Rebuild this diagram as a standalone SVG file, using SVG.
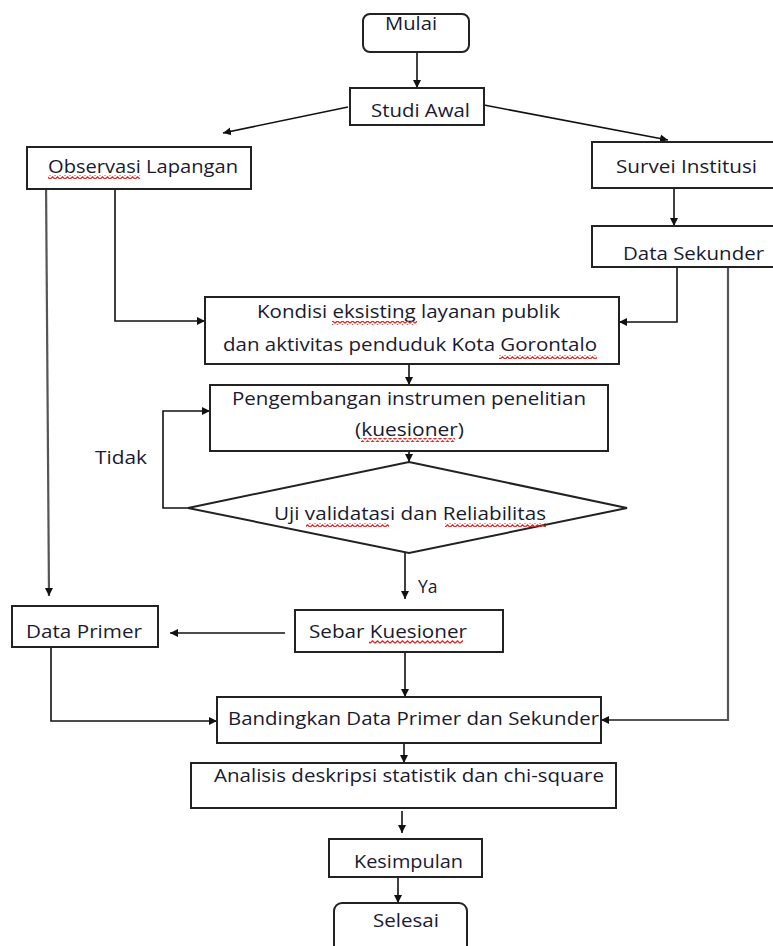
<svg xmlns="http://www.w3.org/2000/svg" width="773" height="946" viewBox="0 0 773 946">
<style>
.box{fill:#fff;stroke:#222;stroke-width:2}
.t{font-family:"Open Sans","Liberation Sans",sans-serif;font-size:17.5px;fill:#1a1a30}
.c{fill:none;stroke:#111;stroke-width:1.6}
.g{fill:none;stroke:#555;stroke-width:2.2}
.w{fill:url(#wave)}
</style>
<defs>
<marker id="ah" markerWidth="9" markerHeight="9" refX="8" refY="4.5" orient="auto" markerUnits="userSpaceOnUse">
<path d="M0,0.5 L8,4.5 L0,8.5 z" fill="#111"/>
</marker>
<pattern id="wave" width="5" height="4" patternUnits="userSpaceOnUse">
<path d="M0,3.2 L2.5,0.8 L5,3.2" fill="none" stroke="#e02828" stroke-width="1.2"/>
</pattern>
</defs>
<rect width="773" height="946" fill="#fff"/>

<g id="connectors">
<path class="c" d="M417,52 L417,88" marker-end="url(#ah)"/>
<path class="c" d="M348,107 L223,133" marker-end="url(#ah)"/>
<path class="c" d="M484,105 L668,140" marker-end="url(#ah)"/>
<path class="c" d="M674,188 L674,226" marker-end="url(#ah)"/>
<path class="c" d="M115,189 L115,321 L205,321" marker-end="url(#ah)"/>
<path class="c" d="M677,267 L677,322 L619,322" marker-end="url(#ah)"/>
<path class="g" d="M46,179 L49,596" marker-end="url(#ah)"/>
<path class="g" d="M728,267 L728,720 L601,720" marker-end="url(#ah)"/>
<path class="c" d="M409,364 L409,385" marker-end="url(#ah)"/>
<path class="c" d="M409,451 L409,462" marker-end="url(#ah)"/>
<path class="c" d="M188,508 L163,508 L163,411 L210,411" marker-end="url(#ah)"/>
<path class="c" d="M405,553 L405,599" marker-end="url(#ah)"/>
<path class="c" d="M285,633 L170,633" marker-end="url(#ah)"/>
<path class="c" d="M405,652 L405,697" marker-end="url(#ah)"/>
<path class="c" d="M51,647 L51,721 L217,721" marker-end="url(#ah)"/>
<path class="c" d="M404,743 L404,763" marker-end="url(#ah)"/>
<path class="c" d="M402,811 L402,833" marker-end="url(#ah)"/>
<path class="c" d="M398,877 L398,903" marker-end="url(#ah)"/>
</g>

<g id="mulai">
<rect class="box" x="363" y="14" width="106" height="38" rx="7"/>
<text class="t" x="385" y="30" textLength="52" lengthAdjust="spacingAndGlyphs">Mulai</text>
</g>

<g id="studi-awal">
<rect class="box" x="350" y="88" width="134" height="37"/>
<text class="t" x="371" y="117" textLength="99" lengthAdjust="spacingAndGlyphs">Studi Awal</text>
</g>

<g id="observasi">
<rect class="box" x="27" y="147" width="224" height="42"/>
<text class="t" x="48" y="173" textLength="190" lengthAdjust="spacingAndGlyphs">Observasi  Lapangan</text>
<rect class="w" x="48" y="175" width="92" height="4"/>
</g>

<g id="survei">
<rect class="box" x="592" y="142" width="184" height="46"/>
<text class="t" x="616" y="173" textLength="141" lengthAdjust="spacingAndGlyphs">Survei Institusi</text>
</g>

<g id="data-sekunder">
<rect class="box" x="592" y="226" width="184" height="41"/>
<text class="t" x="623" y="260" textLength="141" lengthAdjust="spacingAndGlyphs">Data Sekunder</text>
</g>

<g id="kondisi">
<rect class="box" x="205" y="297" width="414" height="67"/>
<text class="t" x="257" y="318" textLength="303" lengthAdjust="spacingAndGlyphs">Kondisi eksisting layanan  publik</text>
<text class="t" x="223" y="351" textLength="374" lengthAdjust="spacingAndGlyphs">dan aktivitas penduduk Kota Gorontalo</text>
<rect class="w" x="332" y="321" width="85" height="4"/>
<rect class="w" x="499" y="355" width="98" height="4"/>
</g>

<g id="pengembangan">
<rect class="box" x="210" y="385" width="398" height="66"/>
<text class="t" x="232" y="405" textLength="354" lengthAdjust="spacingAndGlyphs">Pengembangan instrumen penelitian</text>
<text class="t" x="355" y="436" textLength="109" lengthAdjust="spacingAndGlyphs">(kuesioner)</text>
<rect class="w" x="361" y="438" width="94" height="4"/>
</g>

<g id="uji">
<polygon points="409,462 627,508 409,553 188,508" fill="#fff" stroke="#222" stroke-width="2"/>
<text class="t" x="274" y="520" textLength="272" lengthAdjust="spacingAndGlyphs">Uji validatasi dan Reliabilitas</text>
<rect class="w" x="306" y="523" width="83" height="4"/>
<rect class="w" x="445" y="523" width="101" height="4"/>
</g>

<g id="label-tidak">
<text class="t" x="95" y="464" textLength="52" lengthAdjust="spacingAndGlyphs">Tidak</text>
</g>
<g id="label-ya">
<text class="t" x="418" y="593">Ya</text>
</g>

<g id="data-primer">
<rect class="box" x="12" y="606" width="146" height="41"/>
<text class="t" x="26" y="638" textLength="116" lengthAdjust="spacingAndGlyphs">Data Primer</text>
</g>

<g id="sebar">
<rect class="box" x="295" y="610" width="208" height="42"/>
<text class="t" x="309" y="638" textLength="158" lengthAdjust="spacingAndGlyphs">Sebar Kuesioner</text>
<rect class="w" x="369" y="640" width="94" height="4"/>
</g>

<g id="bandingkan">
<rect class="box" x="217" y="697" width="384" height="46"/>
<text class="t" x="228" y="725" textLength="371" lengthAdjust="spacingAndGlyphs">Bandingkan Data Primer dan Sekunder</text>
</g>

<g id="analisis">
<rect class="box" x="191" y="763" width="425" height="45"/>
<text class="t" x="214" y="782" textLength="390" lengthAdjust="spacingAndGlyphs">Analisis deskripsi statistik dan  chi-square</text>
</g>

<g id="kesimpulan">
<rect class="box" x="329" y="839" width="153" height="38"/>
<text class="t" x="354" y="868" textLength="109" lengthAdjust="spacingAndGlyphs">Kesimpulan</text>
</g>

<g id="selesai">
<rect class="box" x="334" y="903" width="133" height="60" rx="8"/>
<text class="t" x="373" y="927" textLength="66" lengthAdjust="spacingAndGlyphs">Selesai</text>
</g>
</svg>
